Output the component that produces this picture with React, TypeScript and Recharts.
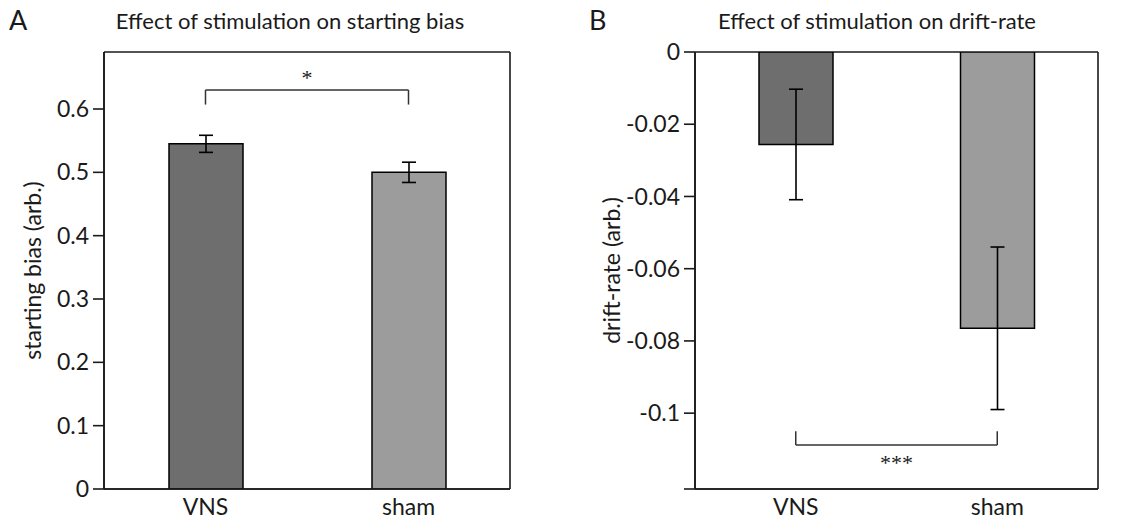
import React from "react";
import {
  BarChart,
  Bar,
  XAxis,
  YAxis,
  ErrorBar,
  Cell,
  ReferenceLine,
  CartesianGrid,
} from "recharts";

// ---- data ----
const groups = ["VNS", "sham"];
const barColors = ["#6e6e6e", "#9c9c9c"];

const biasMean = [0.545, 0.5];
const biasErr = [0.0135, 0.016];
const biasTicks = [0, 0.1, 0.2, 0.3, 0.4, 0.5, 0.6];
const biasDomain = [0, 0.69];
const biasBracket = { top: 0.63, foot: 0.607 };

const driftMean = [-0.0256, -0.0765];
const driftErr = [0.0153, 0.0225];
const driftTicks = [0, -0.02, -0.04, -0.06, -0.08, -0.1, -0.121];
const driftDomain = [-0.121, 0];
const driftBracket = { bottom: -0.1088, foot: -0.105 };

const biasData = groups.map((g, i) => ({ name: g, value: biasMean[i], err: biasErr[i] }));
const driftData = groups.map((g, i) => ({ name: g, value: driftMean[i], err: driftErr[i] }));

const FONT = "Lato, 'Open Sans', sans-serif";
const INK = "#1a1a1a";
const tickStyle = { fontSize: 23, fill: INK, fontFamily: FONT };

function sideLabel(text: string, dx: number) {
  return (props: any) => {
    const vb = props.viewBox || {};
    const x = vb.x + dx;
    const y = vb.y + vb.height / 2;
    return (
      <text
        x={x}
        y={y}
        transform={`rotate(-90, ${x}, ${y})`}
        textAnchor="middle"
        dominantBaseline="central"
        fontSize={23}
        fontFamily={FONT}
        fill={INK}
      >
        {text}
      </text>
    );
  };
}

// box around the plot area (outer frame only)
const frameRows = ({ offset }: any) => [offset.top, offset.top + offset.height];
const frameCols = ({ offset }: any) => [offset.left, offset.left + offset.width];

function Panel({
  letter,
  title,
  titleCenter,
  left,
  width,
  data,
  ticks,
  domain,
  yWidth,
  marginRight,
  yLabel,
  labelDx,
  fmt,
  children,
}: any) {
  return (
    <div style={{ position: "absolute", left, top: 0, width, height: 520 }}>
      <div
        style={{
          position: "absolute",
          left: 9,
          top: 3,
          fontFamily: FONT,
          fontSize: 27,
          color: INK,
        }}
      >
        {letter}
      </div>
      <div
        style={{
          position: "absolute",
          left: titleCenter - 250,
          width: 500,
          top: 7,
          textAlign: "center",
          fontFamily: FONT,
          fontSize: 22,
          color: INK,
          whiteSpace: "nowrap",
        }}
      >
        {title}
      </div>
      <BarChart
        width={width}
        height={520}
        data={data}
        margin={{ top: 52, right: marginRight, bottom: 0, left: 0 }}
        barCategoryGap={0}
      >
        <CartesianGrid
          stroke={INK}
          strokeWidth={1.6}
          fill="none"
          horizontalCoordinatesGenerator={frameRows}
          verticalCoordinatesGenerator={frameCols}
        />
        <XAxis
          dataKey="name"
          tick={tickStyle}
          tickLine={false}
          tickMargin={4}
          height={31}
          axisLine={{ stroke: INK, strokeWidth: 1.6 }}
        />
        <YAxis
          type="number"
          domain={domain}
          ticks={ticks}
          interval={0}
          allowDataOverflow
          width={yWidth}
          tick={tickStyle}
          tickFormatter={fmt}
          tickSize={11}
          tickMargin={4}
          tickLine={{ stroke: INK, strokeWidth: 1.6 }}
          axisLine={{ stroke: INK, strokeWidth: 1.6 }}
          label={{ content: sideLabel(yLabel, labelDx) }}
        />
        <Bar
          dataKey="value"
          barSize={74}
          stroke="#000"
          strokeWidth={1.5}
          isAnimationActive={false}
        >
          {data.map((_: any, i: number) => (
            <Cell key={i} fill={barColors[i]} />
          ))}
          <ErrorBar dataKey="err" width={7} stroke="#000" strokeWidth={1.6} />
        </Bar>
        {children}
      </BarChart>
    </div>
  );
}

const bracketStroke = { stroke: "#333", strokeWidth: 1.5 };

export default function App() {
  return (
    <div
      style={{
        position: "fixed",
        left: 0,
        top: 0,
        width: 1144,
        height: 520,
        background: "#fff",
      }}
    >
      <Panel
        letter="A"
        title="Effect of stimulation on starting bias"
        titleCenter={290}
        left={0}
        width={560}
        data={biasData}
        ticks={biasTicks}
        domain={biasDomain}
        yWidth={104}
        marginRight={50}
        yLabel="starting bias (arb.)"
        labelDx={32}
        fmt={(v: number) => String(v)}
      >
        <ReferenceLine
          segment={[
            { x: groups[0], y: biasBracket.top },
            { x: groups[1], y: biasBracket.top },
          ]}
          {...bracketStroke}
          label={{ value: "*", position: "top", offset: 5, fontSize: 22, fill: INK }}
        />
        <ReferenceLine
          segment={[
            { x: groups[0], y: biasBracket.top },
            { x: groups[0], y: biasBracket.foot },
          ]}
          {...bracketStroke}
        />
        <ReferenceLine
          segment={[
            { x: groups[1], y: biasBracket.top },
            { x: groups[1], y: biasBracket.foot },
          ]}
          {...bracketStroke}
        />
      </Panel>
      <Panel
        letter="B"
        title="Effect of stimulation on drift-rate"
        titleCenter={297}
        left={580}
        width={564}
        data={driftData}
        ticks={driftTicks}
        domain={driftDomain}
        yWidth={115}
        marginRight={46}
        yLabel="drift-rate (arb.)"
        labelDx={31}
        fmt={(v: number) => (v === driftDomain[0] ? "" : String(v))}
      >
        <ReferenceLine
          segment={[
            { x: groups[0], y: driftBracket.bottom },
            { x: groups[1], y: driftBracket.bottom },
          ]}
          {...bracketStroke}
          label={{ value: "***", position: "bottom", offset: 9, fontSize: 22, fill: INK }}
        />
        <ReferenceLine
          segment={[
            { x: groups[0], y: driftBracket.bottom },
            { x: groups[0], y: driftBracket.foot },
          ]}
          {...bracketStroke}
        />
        <ReferenceLine
          segment={[
            { x: groups[1], y: driftBracket.bottom },
            { x: groups[1], y: driftBracket.foot },
          ]}
          {...bracketStroke}
        />
      </Panel>
    </div>
  );
}
